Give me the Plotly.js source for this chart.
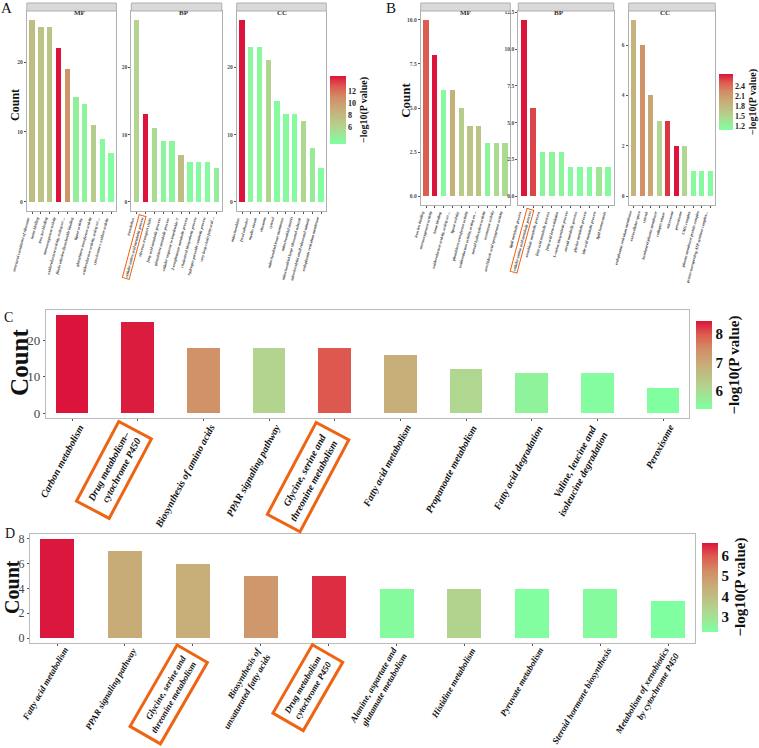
<!DOCTYPE html>
<html><head><meta charset="utf-8">
<script src="https://cdn.plot.ly/plotly-3.0.1.min.js"></script>
<style>html,body{margin:0;padding:0;background:#fff}#chart{width:759px;height:748px}</style>
</head><body><div id="chart"></div>
<script>
// ---------------- DATA ----------------
// Panel A (GO, facets)
const A_MF_terms = ['structural constituent of ribosome','heme binding','iron ion binding','monooxygenase activity','oxidoreductase activity, acting on ...','flavin adenine dinucleotide binding','lipase activity','glutathione transferase activity','oxidoreductase activity, acting on ...','cytochrome-c oxidase activity'];
const A_MF_count = [26,25,25,22,19,15,14,11,9,7];
const A_MF_logp  = [7.6,7.2,7.2,14.5,10.5,4.3,4.0,6.6,3.5,3.3];
const A_BP_terms = ['translation','cellular amino acid metabolic process','electron transport chain','fatty acid metabolic process','glutathione metabolic process','cellular response to interleukin-7','2-oxoglutarate metabolic process','cholesterol biosynthetic process','hydrogen peroxide catabolic process','very long-chain fatty acid ...'];
const A_BP_count = [27,13,11,9,9,7,6,6,6,5];
const A_BP_logp  = [6.0,14.5,5.5,3.9,3.8,7.7,3.5,3.5,3.5,4.3];
const A_CC_terms = ['mitochondrion','focal adhesion','myelin sheath','ribosome','cytosol','mitochondrial inner membrane','mitochondrial matrix','mitochondrial large ribosomal subunit','mitochondrial small ribosomal subunit','endoplasmic reticulum membrane'];
const A_CC_count = [27,23,23,21,15,13,13,12,8,5];
const A_CC_logp  = [14.5,3.8,3.8,6.0,3.5,3.6,3.4,5.8,4.5,3.3];
const A_highlight = {BP:[1]};

// Panel B (GO, facets)
const B_MF_terms = ['iron ion binding','monooxygenase activity','heme binding','oxidoreductase activity, acting on ...','lipase activity','glutathione transferase activity','oxidoreductase activity, acting on ...','steroid hydroxylase activity','aromatase activity','arachidonic acid epoxygenase activity'];
const B_MF_count = [10,8,6,6,5,4,4,3,3,3];
const B_MF_logp  = [2.5,2.77,1.15,1.9,1.6,1.7,1.7,1.2,1.45,1.45];
const B_BP_terms = ['lipid metabolic process','cellular amino acid metabolic process','xenobiotic metabolic process','fatty acid metabolic process','fatty acid beta-oxidation','L-serine biosynthetic process','steroid metabolic process','glycine metabolic process','bile acid metabolic process','lipid homeostasis'];
const B_BP_count = [12,6,3,3,3,2,2,2,2,2];
const B_BP_logp  = [2.77,2.6,1.2,1.2,1.2,1.15,1.15,1.15,1.35,1.15];
const B_CC_terms = ['endoplasmic reticulum membrane','extracellular space','cytosol','basolateral plasma membrane','collagen trimer','microsome','peroxisome','CMG complex','plasma membrane protein complex','proton-transporting ATP synthase complex...'];
const B_CC_count = [7,6,4,3,3,2,2,1,1,1];
const B_CC_logp  = [1.85,2.2,2.0,1.5,2.65,2.77,1.5,1.15,1.15,1.15];

// Panel C (KEGG)
const C_terms = ['Carbon metabolism','Drug metabolism–<br>cytochrome P450','Biosynthesis of amino acids','PPAR signaling pathway','Glycine, serine and<br>threonine metabolism','Fatty acid metabolism','Propanoate metabolism','Fatty acid degradation','Valine, leucine and<br>isoleucine degradation','Peroxisome'];
const C_count = [27,25,18,18,18,16,12,11,11,7];
const C_logp  = [8.45,8.4,7.4,6.15,8.0,6.9,6.1,5.6,5.42,5.4];
const C_highlight = [1,4];

// Panel D (KEGG)
const D_terms = ['Fatty acid metabolism','PPAR signaling pathway','Glycine, serine and<br>threonine metabolism','Biosynthesis of<br>unsaturated fatty acids','Drug metabolism<br>cytochrome P450','Alanine, aspartate and<br>glutamate metabolism','Histidine metabolism','Pyruvate metabolism','Steroid hormone biosynthesis','Metabolism of xenobiotics<br>by cytochrome P450'];
const D_count = [8,7,6,5,5,4,4,4,4,3];
const D_logp  = [6.6,4.5,4.45,5.0,6.4,2.4,3.4,2.35,2.4,2.3];
const D_highlight = [2,4];

// ---------------- LAYOUT HELPERS ----------------
const W = 759, H = 748;
const px = x => x / W;
const py = y => 1 - y / H;
const dX = (a, b) => [px(a), px(b)];
const dY = (top, bot) => [py(bot), py(top)];
const SERIF = 'Liberation Serif, Times New Roman, serif';
const HL = '#EE6413';
const colorscale = [[0,'#80FFA0'],[0.25,'#B2D48E'],[0.5,'#C8AD78'],[0.68,'#D28E66'],[0.85,'#DD5A4E'],[1,'#DC143C']];

const traces = [];
const layout = {
  width: W, height: H, margin: {l:0, r:0, t:0, b:0},
  paper_bgcolor: '#fff', plot_bgcolor: '#fff', showlegend: false,
  font: {family: SERIF, color: '#333'}, annotations: [], shapes: [], bargap: 0
};

function addPanel(n, opts) {
  const xa = 'xaxis' + (n === 1 ? '' : n), ya = 'yaxis' + (n === 1 ? '' : n);
  const xr = 'x' + (n === 1 ? '' : n), yr = 'y' + (n === 1 ? '' : n);
  const idx = opts.terms.map((_, i) => i);
  const maxc = Math.max(...opts.count);
  const tr = {
    type: 'bar', x: idx, y: opts.count, xaxis: xr, yaxis: yr, width: opts.barw,
    hoverinfo: 'skip',
    marker: {color: opts.logp, colorscale: colorscale, cmin: opts.cmin, cmax: opts.cmax,
             showscale: !!opts.colorbar, line: {width: 0}}
  };
  if (opts.colorbar) tr.marker.colorbar = opts.colorbar;
  traces.push(tr);
  layout[xa] = {
    domain: dX(opts.x0, opts.x1), anchor: yr, range: [-opts.pad, opts.terms.length - 1 + opts.pad],
    showline: true, mirror: true, linecolor: opts.lc, linewidth: 1, showgrid: false, zeroline: false,
    ticks: 'outside', ticklen: opts.ticklen, tickcolor: '#555', tickvals: idx, showticklabels: false, fixedrange: true
  };
  layout[ya] = {
    domain: dY(opts.y0, opts.y1), anchor: xr, range: [-0.05 * maxc, 1.05 * maxc],
    showline: true, mirror: true, linecolor: opts.lc, linewidth: 1, showgrid: false, zeroline: false,
    ticks: 'outside', ticklen: opts.ticklen, tickcolor: '#555', tickvals: opts.yticks,
    ticktext: opts.yticktext, tickfont: opts.ytickfont, fixedrange: true
  };
  // y-axis title drawn as rotated text at a fixed place
  if (opts.ytitle) {
    layout.annotations.push({xref:'paper', yref:'paper', x: px(opts.ytitle.x), y: py(opts.ytitle.y),
      xanchor:'center', yanchor:'middle', textangle: -90, showarrow:false, text: '<b>Count</b>',
      font:{family: SERIF, size: opts.ytitle.size, color:'#111'}});
  }
  // category labels
  opts.terms.forEach((t, i) => {
    const hl = (opts.hl || []).includes(i);
    const a = {
      xref: xr, yref: 'paper', x: i, y: py(opts.y1 + opts.labOff), xanchor: 'right', yanchor: 'top',
      xshift: opts.labShift, text: t, textangle: opts.labAngle, showarrow: false,
      font: opts.labFont, align: 'right'
    };
    if (hl) { a.bordercolor = HL; a.borderwidth = opts.hlw; a.borderpad = opts.hlpad; }
    layout.annotations.push(a);
  });
  // facet strip
  if (opts.strip) {
    layout.shapes.push({type:'rect', xref:'paper', yref:'paper', x0: px(opts.x0), x1: px(opts.x1),
      y0: py(opts.y0), y1: py(opts.y0 - 8), fillcolor:'#D9D9D9', line:{color: opts.lc, width:1}});
    layout.annotations.push({xref:'paper', yref:'paper', x: px((opts.x0 + opts.x1) / 2), y: py(opts.y0 - 4),
      text: '<b>' + opts.strip + '</b>', showarrow:false, font:{family:SERIF, size:7, color:'#333'}});
  }
}

const smallTick = {family: SERIF, size: 5.5, color: '#4d4d4d', weight: 'bold'};
const tinyLab = {family: SERIF, size: 4, color: '#333', weight: 'bold', style: 'italic'};
const cbSmall = (x, yc, len, th, vals) => ({
  x: px(x), xanchor: 'left', xpad: 0, y: py(yc), yanchor: 'middle', ypad: 0,
  len: len, lenmode: 'pixels', thickness: th, outlinewidth: 0, ticks: '',
  tickvals: vals, tickfont: {family: SERIF, size: 8, color: '#222', weight: 'bold'},
  title: {text: '−log10(P value)', side: 'right', font: {family: SERIF, size: 10, color: '#111', weight: 'bold'}}
});

const aCommon = {y0: 11, y1: 211, pad: 0.6, barw: 0.6, cmin: 3.2, cmax: 14.5, lc: '#B0B0B0', ticklen: 2,
  ytickfont: smallTick, labOff: 3, labShift: 1, labAngle: -75, labFont: tinyLab, hlw: 1, hlpad: 0.5};
addPanel(1, Object.assign({}, aCommon, {terms: A_MF_terms, count: A_MF_count, logp: A_MF_logp, x0: 27, x1: 117,
  yticks: [0,10,20], strip: 'MF', ytitle: {x: 15, y: 105, size: 12},
  colorbar: cbSmall(332, 110, 68, 16, [6,8,10,12])}));
addPanel(2, Object.assign({}, aCommon, {terms: A_BP_terms, count: A_BP_count, logp: A_BP_logp, x0: 132, x1: 223,
  yticks: [0,10,20], strip: 'BP', hl: A_highlight.BP}));
addPanel(3, Object.assign({}, aCommon, {terms: A_CC_terms, count: A_CC_count, logp: A_CC_logp, x0: 238, x1: 328,
  yticks: [0,10,20], strip: 'CC'}));

const bCommon = Object.assign({}, aCommon, {y1: 205, cmin: 1.1, cmax: 2.77});
addPanel(4, Object.assign({}, bCommon, {terms: B_MF_terms, count: B_MF_count, logp: B_MF_logp, x0: 423, x1: 513,
  yticks: [0,2.5,5,7.5,10], yticktext: ['0.0','2.5','5.0','7.5','10.0'], strip: 'MF',
  ytitle: {x: 408, y: 100, size: 13},
  colorbar: cbSmall(723, 102, 56, 14, [1.2,1.5,1.8,2.1,2.4])}));
addPanel(5, Object.assign({}, bCommon, {terms: B_BP_terms, count: B_BP_count, logp: B_BP_logp, x0: 521, x1: 617,
  yticks: [0,2.5,5,7.5,10,12.5], yticktext: ['0.0','2.5','5.0','7.5','10.0','12.5'], strip: 'BP', hl: [1]}));
addPanel(6, Object.assign({}, bCommon, {terms: B_CC_terms, count: B_CC_count, logp: B_CC_logp, x0: 632, x1: 719,
  yticks: [0,2,4,6], strip: 'CC'}));

const bigTick = {family: SERIF, size: 13, color: '#444'};
const bigLab = {family: SERIF, size: 10, color: '#111', weight: 'bold', style: 'italic'};
const cbBig = (x, yc, len, vals) => ({
  x: px(x), xanchor: 'left', xpad: 0, y: py(yc), yanchor: 'middle', ypad: 0,
  len: len, lenmode: 'pixels', thickness: 16, outlinewidth: 0, ticks: '',
  tickvals: vals, tickfont: {family: SERIF, size: 15, color: '#111', weight: 'bold'},
  title: {text: '−log10(P value)', side: 'right', font: {family: SERIF, size: 15, color: '#111', weight: 'bold'}}
});
const kCommon = {pad: 0.4, barw: 0.5, lc: '#BBBBBB', ticklen: 2, ytickfont: bigTick, labOff: 2, labShift: 16,
  labAngle: -62, labFont: bigLab, hlw: 3, hlpad: 5};
addPanel(7, Object.assign({}, kCommon, {terms: C_terms, count: C_count, logp: C_logp, x0: 46, x1: 693, y0: 310, y1: 418,
  cmin: 5.38, cmax: 8.45, yticks: [0,10,20], hl: C_highlight, ytitle: {x: 20, y: 362, size: 25},
  colorbar: cbBig(700, 365, 88, [6,7,8])}));
addPanel(8, Object.assign({}, kCommon, {terms: D_terms, count: D_count, logp: D_logp, x0: 30, x1: 699, y0: 534, y1: 643,
  cmin: 2.3, cmax: 6.63, yticks: [0,2,4,6,8], hl: D_highlight, labOff: 0, labAngle: -60,
  labFont: {family: SERIF, size: 9, color: '#111', weight: 'bold', style: 'italic'},
  ytickfont: {family: SERIF, size: 12, color: '#444'},
  ytitle: {x: 12, y: 587, size: 20},
  colorbar: cbBig(706, 587, 89, [3,4,5,6])}));

// panel letters
[['A',7,8,15],['B',393,8,15],['C',9,317,14],['D',10,533,14]].forEach(([t,x,y,s]) => {
  layout.annotations.push({xref:'paper', yref:'paper', x: px(x), y: py(y), text: t, showarrow:false,
    xanchor:'center', yanchor:'middle', font:{family: SERIF, size: s, color:'#111'}});
});

Plotly.newPlot('chart', traces, layout, {displayModeBar: false, staticPlot: true});
</script></body></html>
